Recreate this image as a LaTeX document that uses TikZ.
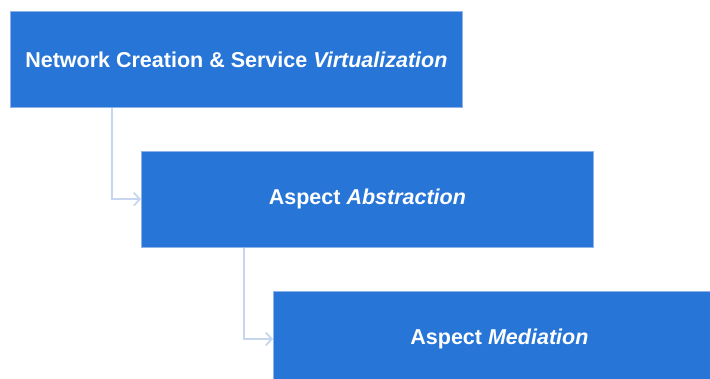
\documentclass[tikz,border=0pt]{standalone}
\usepackage{fontspec}
\setmainfont{Liberation Sans}
\usepackage{tikz}
\usetikzlibrary{positioning,arrows.meta}
\definecolor{boxblue}{HTML}{2675D7}
\definecolor{boxedge}{HTML}{8DB3EA}
\definecolor{linkgrey}{HTML}{C6D6EE}
\tikzset{
	stepbox/.style={
		rectangle,
		draw=boxedge,
		line width=0.8pt,
		fill=boxblue,
		text=white,
		font=\fontsize{21.5}{25}\selectfont\bfseries,
		minimum width=452pt,
		minimum height=96pt,
		inner sep=0pt
	},
	link/.style={
		draw=linkgrey,
		line width=1.8pt,
		-{Straight Barb[length=6pt,width=13pt]}
	}
}

\begin{document}
\begin{tikzpicture}
	\useasboundingbox (0,0) rectangle (710pt,-378pt);
	\clip (0,0) rectangle (710pt,-378pt);
	\node[stepbox,anchor=north west] (net) at (10pt,-11pt) {Network Creation \& Service \textit{Virtualization}};
	\node[stepbox,below right=43pt and 131pt of net.south west] (abs) {Aspect \textit{Abstraction}};
	\node[stepbox,below right=43pt and 132pt of abs.south west] (med) {Aspect \textit{Mediation}};
	% elbow connectors
	\draw[link] ([xshift=102pt]net.south west) |- (abs.west);
	\draw[link] ([xshift=103pt]abs.south west) |- (med.west);
\end{tikzpicture}
\end{document}
